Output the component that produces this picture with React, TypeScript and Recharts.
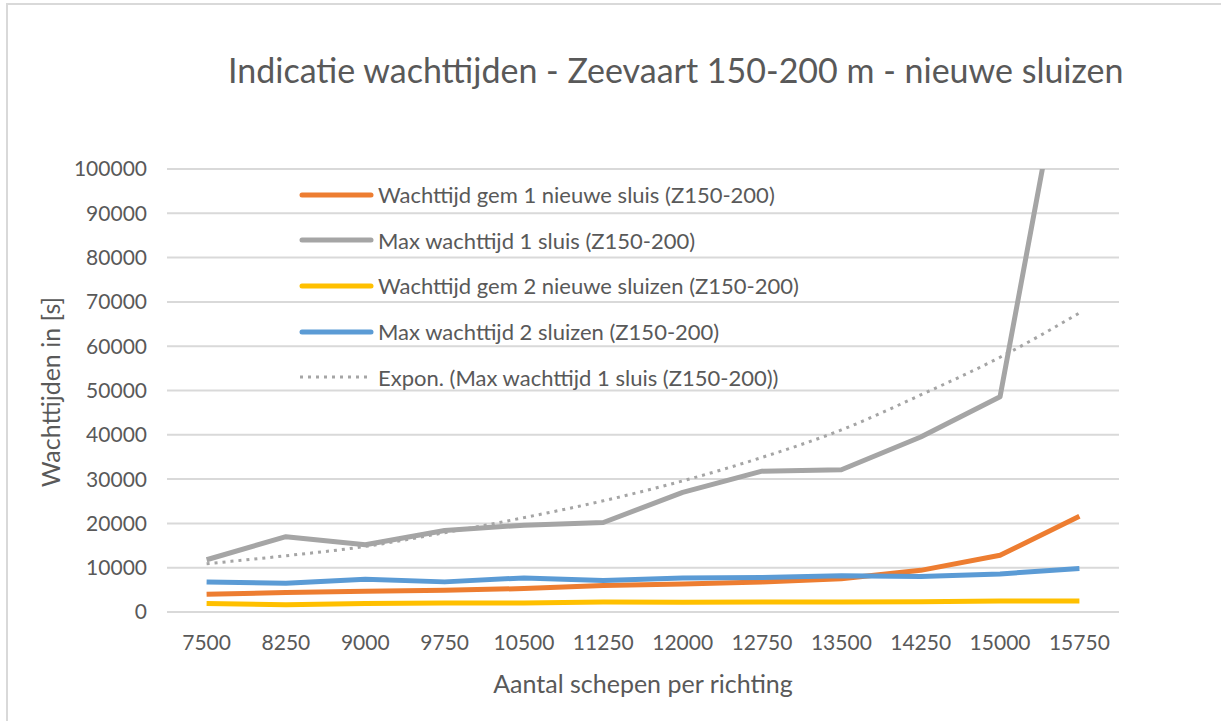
import { LineChart, Line, XAxis, YAxis, CartesianGrid } from 'recharts';

const categories = ['7500', '8250', '9000', '9750', '10500', '11250', '12000', '12750', '13500', '14250', '15000', '15750'];
const gem1Sluis = [4000, 4400, 4700, 4900, 5300, 6000, 6300, 6800, 7500, 9400, 12800, 21600];
const max1Sluis = [11800, 17000, 15200, 18400, 19600, 20200, 27000, 31800, 32100, 39500, 48600, 145000];
const gem2Sluizen = [1900, 1650, 1900, 2050, 2050, 2250, 2200, 2250, 2250, 2300, 2500, 2500];
const max2Sluizen = [6800, 6500, 7400, 6800, 7700, 7100, 7700, 7800, 8200, 8000, 8600, 9800];
const exponTrend = [10900, 12700, 14800, 17900, 21300, 25100, 29600, 34900, 41100, 49000, 57500, 67500];
const yTicks = [0, 10000, 20000, 30000, 40000, 50000, 60000, 70000, 80000, 90000, 100000];

const data = categories.map((name, i) => ({
  name,
  gem1: gem1Sluis[i],
  max1: max1Sluis[i],
  gem2: gem2Sluizen[i],
  max2: max2Sluizen[i],
  expon: exponTrend[i],
}));

const FONT = 'Lato, "Open Sans", sans-serif';
const TEXT = '#595959';

const legendItems = [
  { label: 'Wachttijd gem 1 nieuwe sluis (Z150-200)', color: '#ED7D31', dotted: false },
  { label: 'Max wachttijd 1 sluis (Z150-200)', color: '#A5A5A5', dotted: false },
  { label: 'Wachttijd gem 2 nieuwe sluizen (Z150-200)', color: '#FFC000', dotted: false },
  { label: 'Max wachttijd 2 sluizen (Z150-200)', color: '#5B9BD5', dotted: false },
  { label: 'Expon. (Max wachttijd 1 sluis (Z150-200))', color: '#A5A5A5', dotted: true },
];

// legend sits inside the plot area, like Excel put it
function ChartLegend() {
  return (
    <div style={{ position: 'absolute', left: 297, top: 172, fontFamily: FONT, fontSize: 22, color: TEXT }}>
      {legendItems.map((it) => (
        <div key={it.label} style={{ display: 'flex', alignItems: 'center', height: 45.6 }}>
          <svg width={81} height={10}>
            {it.dotted ? (
              <line x1={3} y1={5} x2={72} y2={5} stroke={it.color} strokeWidth={3} strokeDasharray="3 5" />
            ) : (
              <line x1={5} y1={5} x2={74} y2={5} stroke={it.color} strokeWidth={5} strokeLinecap="round" />
            )}
          </svg>
          <span style={{ whiteSpace: 'nowrap' }}>{it.label}</span>
        </div>
      ))}
    </div>
  );
}

export default function App() {
  return (
    <div style={{ position: 'absolute', left: 0, top: 0, width: 1221, height: 721, background: '#fff', fontFamily: FONT }}>
      <div style={{ position: 'absolute', left: 6, top: 3, right: 0, bottom: 0, borderLeft: '2px solid #D9D9D9', borderTop: '2px solid #D9D9D9' }} />
      <div style={{ position: 'absolute', left: 228, top: 50, fontSize: 34, color: TEXT, whiteSpace: 'nowrap', lineHeight: 1.2 }}>
        Indicatie wachttijden - Zeevaart 150-200 m - nieuwe sluizen
      </div>
      <div
        style={{
          position: 'absolute',
          left: 50,
          top: 392,
          transform: 'translate(-50%, -50%) rotate(-90deg)',
          fontSize: 25,
          color: TEXT,
          whiteSpace: 'nowrap',
        }}
      >
        Wachttijden in [s]
      </div>
      <div style={{ position: 'absolute', left: 643, top: 683, transform: 'translate(-50%, -50%)', fontSize: 25, color: TEXT, whiteSpace: 'nowrap' }}>
        Aantal schepen per richting
      </div>
      <div style={{ position: 'absolute', left: 0, top: 0 }}>
        <LineChart width={1221} height={721} data={data} margin={{ top: 169, right: 102, bottom: 79, left: 67 }}>
          <CartesianGrid vertical={false} stroke="#D9D9D9" strokeWidth={2} />
          <XAxis
            dataKey="name"
            padding={{ left: 39.6, right: 39.6 }}
            axisLine={false}
            tickLine={false}
            tickMargin={17}
            height={30}
            interval={0}
            tick={{ fill: TEXT, fontSize: 21, fontFamily: FONT }}
          />
          <YAxis
            domain={[0, 100000]}
            ticks={yTicks}
            allowDataOverflow
            axisLine={false}
            tickLine={false}
            tickMargin={14}
            width={100}
            interval={0}
            tick={{ fill: TEXT, fontSize: 21, fontFamily: FONT }}
          />
          <Line dataKey="gem1" stroke="#ED7D31" strokeWidth={5} dot={false} isAnimationActive={false} strokeLinejoin="round" />
          <Line dataKey="max1" stroke="#A5A5A5" strokeWidth={5} dot={false} isAnimationActive={false} strokeLinejoin="round" />
          <Line dataKey="gem2" stroke="#FFC000" strokeWidth={5} dot={false} isAnimationActive={false} strokeLinejoin="round" />
          <Line dataKey="max2" stroke="#5B9BD5" strokeWidth={5} dot={false} isAnimationActive={false} strokeLinejoin="round" />
          <Line
            dataKey="expon"
            type="monotone"
            stroke="#A5A5A5"
            strokeWidth={3}
            strokeDasharray="3 5"
            dot={false}
            isAnimationActive={false}
          />
        </LineChart>
      </div>
      <ChartLegend />
    </div>
  );
}
